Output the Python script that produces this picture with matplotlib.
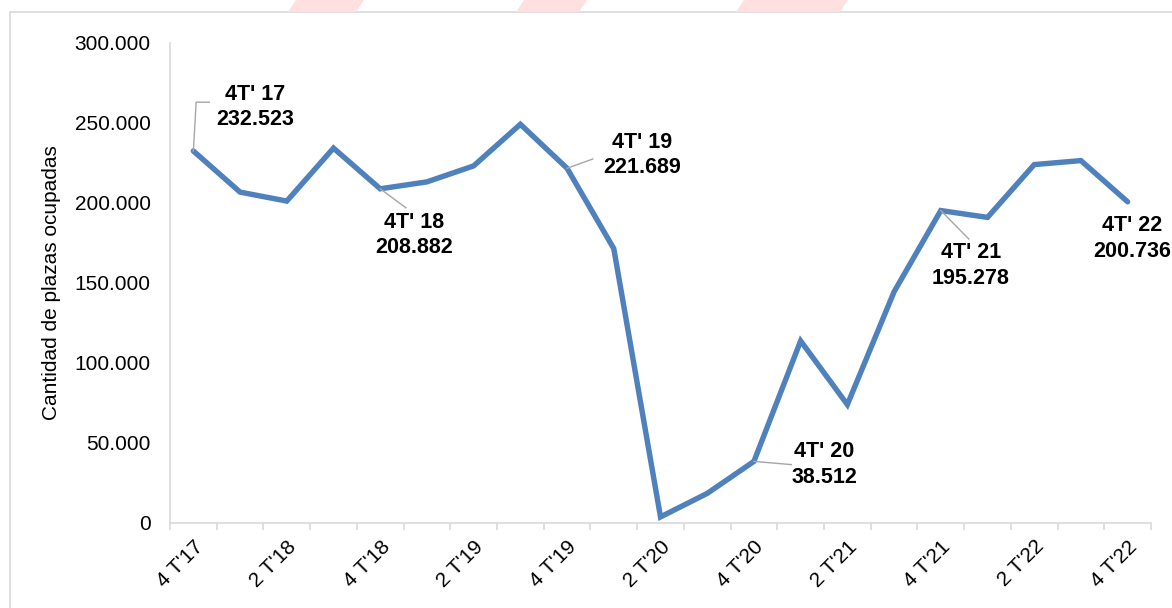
import numpy as np
import matplotlib
matplotlib.use('Agg')
import matplotlib.pyplot as plt
from matplotlib.patches import Rectangle, Polygon
from matplotlib.ticker import FuncFormatter, FixedLocator

plt.rcParams['font.family'] = ['Liberation Sans', 'DejaVu Sans']

quarters = ["4 T'17", "1 T'18", "2 T'18", "3 T'18", "4 T'18", "1 T'19", "2 T'19", "3 T'19",
            "4 T'19", "1 T'20", "2 T'20", "3 T'20", "4 T'20", "1 T'21", "2 T'21", "3 T'21",
            "4 T'21", "1 T'22", "2 T'22", "3 T'22", "4 T'22"]
plazas = [232523, 206800, 201200, 234300, 208882, 213200, 223200, 249200,
          221689, 171500, 3800, 18500, 38512, 113800, 74000, 144500,
          195278, 191000, 224000, 226500, 200736]

# labelled points: index, label text, text position (data coords), leader line points
labels = [
    (0, "4T' 17\n232.523", (1.33, 260000), [(0, 232523), (0.06, 263000), (0.34, 263000)]),
    (4, "4T' 18\n208.882", (4.73, 180000), [(4, 208882), (4.55, 197000)]),
    (8, "4T' 19\n221.689", (9.61, 230000), [(8, 221689), (8.55, 227500)]),
    (12, "4T' 20\n38.512", (13.5, 36500), [(12, 38512), (12.8, 36500)]),
    (16, "4T' 21\n195.278", (16.64, 161000), [(16, 195278), (16.6, 177500)]),
    (20, "4T' 22\n200.736", (20.1, 178000), None),
]

fig = plt.figure(figsize=(11.72, 6.08), dpi=100)

# outer chart border and the faint stripes at the top edge
fig.patches.append(Rectangle((10 / 1172, -0.01), 1.1, 1 - 12 / 608 + 0.01, transform=fig.transFigure,
                             fill=False, edgecolor='#d9d9d9', linewidth=1.2))
for x0, x1 in [(288, 364), (516, 587), (736, 848)]:
    fig.patches.append(Polygon([(x0 / 1172, 1 - 12 / 608), ((x1 - 8) / 1172, 1 - 12 / 608),
                                (x1 / 1172, 1.0), ((x0 + 8) / 1172, 1.0)],
                               transform=fig.transFigure, facecolor='#fde0df', edgecolor='none'))

ax = fig.add_axes([170 / 1172, 1 - 523 / 608, (1151 - 170) / 1172, (523 - 43) / 608])

x = np.arange(len(quarters))
ax.plot(x, plazas, color='#4f81bd', linewidth=3.9, solid_joinstyle='miter', solid_capstyle='round')

ax.set_xlim(-0.5, len(quarters) - 0.5)
ax.set_ylim(0, 300000)
ax.yaxis.set_major_locator(FixedLocator(np.arange(0, 300001, 50000)))
ax.yaxis.set_major_formatter(FuncFormatter(lambda v, p: f"{int(v):,}".replace(',', '.')))
ax.tick_params(axis='y', length=0, labelsize=15, pad=14)

ax.set_xticks(x[::2])
ax.set_xticklabels(quarters[::2], rotation=45, ha='right', rotation_mode='anchor', fontsize=15)
ax.set_xticks(np.arange(-0.5, len(quarters), 1), minor=True)
ax.tick_params(axis='x', which='major', length=0, pad=10)
ax.tick_params(axis='x', which='minor', length=5, color='#d9d9d9', width=1.2)

for side in ['top', 'right']:
    ax.spines[side].set_visible(False)
for side in ['left', 'bottom']:
    ax.spines[side].set_color('#d9d9d9')
    ax.spines[side].set_linewidth(1.2)

ax.set_ylabel('Cantidad de plazas ocupadas', fontsize=15, labelpad=10)

for idx, txt, pos, leader in labels:
    ax.text(pos[0], pos[1], txt, ha='center', va='center', fontsize=15.5, fontweight='bold',
            linespacing=1.3)
    if leader:
        lx, ly = zip(*leader)
        ax.plot(lx, ly, color='#a6a6a6', linewidth=1.0)

fig.savefig('out.png', dpi=100)
